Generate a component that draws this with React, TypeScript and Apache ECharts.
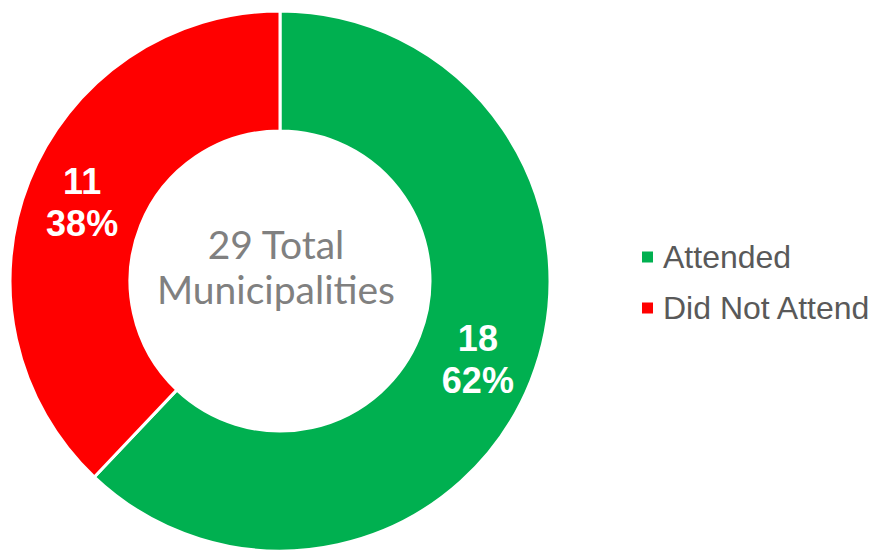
import React, { useEffect, useRef } from "react";
import * as echarts from "echarts";

const categories = ["Attended", "Did Not Attend"];
const values = [18, 11];
const colors = ["#00B050", "#FF0000"];
const centerLines = ["29 Total", "Municipalities"];

export default function App() {
  const ref = useRef<HTMLDivElement>(null);
  useEffect(() => {
    document.body.style.margin = "0";
    const chart = echarts.init(ref.current!, null, { renderer: "svg" });
    const total = values.reduce((a, b) => a + b, 0);
    chart.setOption({
      animation: false,
      legend: {
        orient: "vertical",
        left: 640,
        top: 241,
        padding: 0,
        icon: "rect",
        itemWidth: 13,
        itemHeight: 13,
        itemGap: 19,
        textStyle: { color: "#595959", fontSize: 32, fontFamily: "'Liberation Sans', Arial, sans-serif", padding: [0, 0, 0, 4] },
        data: categories,
      },
      graphic: [
        {
          type: "text",
          left: 276 - 150,
          top: 221,
          style: {
            text: centerLines.join("\n"),
            width: 300,
            fill: "#808080",
            font: "39px Lato, 'Open Sans', sans-serif",
            lineHeight: 45,
            x: 150,
            textAlign: "center",
          },
        },
      ],
      series: [
        {
          type: "pie",
          center: [280, 281],
          radius: [150, 270],
          startAngle: 90,
          clockwise: true,
          avoidLabelOverlap: false,
          itemStyle: { borderColor: "#ffffff", borderWidth: 3 },
          label: {
            show: true,
            position: "inside",
            color: "#ffffff",
            fontWeight: "bold",
            fontSize: 36,
            lineHeight: 42,
            fontFamily: "'Liberation Sans', Arial, sans-serif",
            formatter: (p: any) => `${p.value}\n${Math.round((p.value / total) * 100)}%`,
          },
          labelLine: { show: false },
          data: categories.map((c, i) => ({ name: c, value: values[i], itemStyle: { color: colors[i] } })),
        },
      ],
    });
    return () => chart.dispose();
  }, []);
  return <div ref={ref} style={{ width: 876, height: 550 }} />;
}
